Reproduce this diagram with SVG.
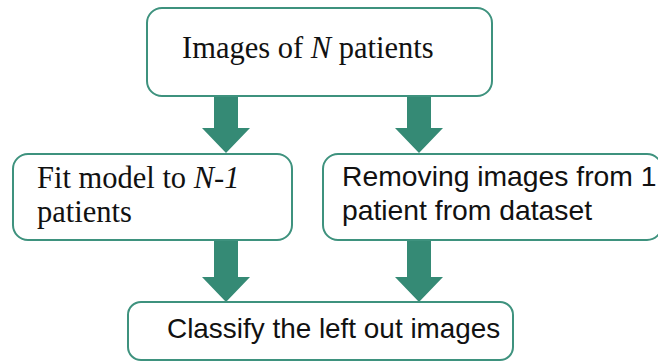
<svg xmlns="http://www.w3.org/2000/svg" width="658" height="363" viewBox="0 0 658 363">
<style>
.box{fill:#fff;stroke:#3e927e;stroke-width:2}
.arr{fill:#358a75}
.serif{font-family:"Liberation Serif","Times New Roman",serif;fill:#111}
.sans{font-family:"Liberation Sans",Arial,sans-serif;fill:#111}
</style>
<rect width="658" height="363" fill="#fff"/>
<g id="connectors">
<polygon class="arr" points="214,96 238,96 238,128 250,128 226,153 202,128 214,128"/>
<polygon class="arr" points="407,96 431,96 431,128 443,128 419,153 395,128 407,128"/>
<polygon class="arr" points="214,240 238,240 238,277 250,277 226,302 202,277 214,277"/>
<polygon class="arr" points="407,240 431,240 431,277 443,277 419,302 395,277 407,277"/>
</g>
<g id="n1">
<rect class="box" x="147" y="8" width="345" height="88" rx="15"/>
<text class="serif" x="182" y="58" font-size="30.5">Images of <tspan font-style="italic">N</tspan> patients</text>
</g>
<g id="n2">
<rect class="box" x="13" y="154" width="279" height="86" rx="15"/>
<text class="serif" x="37" y="188" font-size="30.5">Fit model to <tspan font-style="italic">N</tspan>-<tspan font-style="italic">1</tspan></text>
<text class="serif" x="37" y="222" font-size="30.5">patients</text>
</g>
<g id="n3">
<rect class="box" x="323" y="154" width="339" height="86" rx="15"/>
<text class="sans" x="342" y="186" font-size="28.3">Removing images from 1</text>
<text class="sans" x="342" y="220" font-size="28.3">patient from dataset</text>
</g>
<g id="n4">
<rect class="box" x="128" y="302" width="385" height="58" rx="13"/>
<text class="sans" x="167" y="338" font-size="27.9">Classify the left out images</text>
</g>
</svg>
